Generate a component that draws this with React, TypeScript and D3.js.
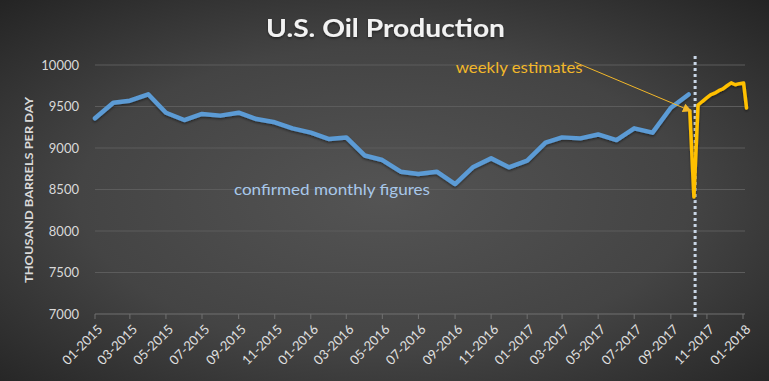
import React from 'react';
import * as d3 from 'd3';

const monthlyDates = [
  '2015-01-01','2015-02-01','2015-03-01','2015-04-01','2015-05-01','2015-06-01',
  '2015-07-01','2015-08-01','2015-09-01','2015-10-01','2015-11-01','2015-12-01',
  '2016-01-01','2016-02-01','2016-03-01','2016-04-01','2016-05-01','2016-06-01',
  '2016-07-01','2016-08-01','2016-09-01','2016-10-01','2016-11-01','2016-12-01',
  '2017-01-01','2017-02-01','2017-03-01','2017-04-01','2017-05-01','2017-06-01',
  '2017-07-01','2017-08-01','2017-09-01','2017-10-01',
];
const monthlyValues = [
  9358, 9546, 9570, 9647, 9425, 9337, 9410, 9390, 9425, 9349, 9310, 9237,
  9185, 9108, 9127, 8910, 8855, 8715, 8687, 8715, 8566, 8767, 8875, 8767,
  8847, 9064, 9128, 9116, 9163, 9096, 9237, 9185, 9485, 9645,
];

const weeklyDates = [
  '2017-10-03','2017-10-10','2017-10-17','2017-10-24','2017-10-31','2017-11-07',
  '2017-11-14','2017-11-21','2017-11-28','2017-12-05','2017-12-12','2017-12-19',
  '2017-12-26','2018-01-02','2018-01-07',
];
const weeklyValues = [
  9450, 8410, 9518, 9560, 9600, 9639, 9660, 9690, 9711, 9750, 9785, 9762,
  9775, 9783, 9482,
];

const tickLabels = [
  '01-2015','03-2015','05-2015','07-2015','09-2015','11-2015',
  '01-2016','03-2016','05-2016','07-2016','09-2016','11-2016',
  '01-2017','03-2017','05-2017','07-2017','09-2017','11-2017','01-2018',
];
const yTicks = [7000, 7500, 8000, 8500, 9000, 9500, 10000];

const dividerDate = '2017-10-12';
const titleText = 'U.S. Oil Production';
const yAxisTitle = 'THOUSAND BARRELS PER DAY';
const weeklyLabel = 'weekly estimates';
const monthlyLabel = 'confirmed monthly figures';
const weeklyLabelAnchor = { date: '2016-09-02', value: 9905 };
const monthlyLabelAnchor = { date: '2015-08-24', value: 8434 };
const arrowFrom = { date: '2017-03-22', value: 10036 };
const arrowTo = { date: '2017-10-05', value: 9446 };

const W = 769;
const H = 381;
const FONT = 'Lato, "Open Sans", sans-serif';

export default function App() {
  const parse = d3.timeParse('%Y-%m-%d');
  const x = d3.scaleTime()
    .domain([parse('2015-01-01')!, parse('2018-01-01')!])
    .range([95, 743]);
  const y = d3.scaleLinear().domain([7000, 10000]).range([314, 65]);

  const line = d3.line<[Date, number]>()
    .x(d => x(d[0]))
    .y(d => y(d[1]));

  const monthly: [Date, number][] = monthlyDates.map((d, i) => [parse(d)!, monthlyValues[i]]);
  const weekly: [Date, number][] = weeklyDates.map((d, i) => [parse(d)!, weeklyValues[i]]);

  const tickDates = tickLabels.map(l => {
    const [m, yr] = l.split('-');
    return parse(`${yr}-${m}-01`)!;
  });

  const gold = '#f2b72a';
  const ax0 = x(parse(arrowFrom.date)!);
  const ay0 = y(arrowFrom.value);
  const ax1 = x(parse(arrowTo.date)!);
  const ay1 = y(arrowTo.value);

  return (
    <div style={{ position: 'absolute', left: 0, top: 0 }}>
      <style>{'body{margin:0}'}</style>
      <svg width={W} height={H} style={{ display: 'block' }}>
        <defs>
          <radialGradient id="bg" cx="50%" cy="52%" r="72%">
            <stop offset="0%" stopColor="#545454" />
            <stop offset="55%" stopColor="#444444" />
            <stop offset="100%" stopColor="#242424" />
          </radialGradient>
          <marker id="arrow" viewBox="0 0 10 10" refX="9" refY="5" markerWidth="9" markerHeight="9" orient="auto" markerUnits="userSpaceOnUse">
            <path d="M0,0 L10,5 L0,10 z" fill={gold} />
          </marker>
          <filter id="shadow" x="-5%" y="-5%" width="110%" height="120%">
            <feDropShadow dx="0" dy="1.5" stdDeviation="1" floodColor="#000" floodOpacity="0.45" />
          </filter>
        </defs>
        <rect x={0} y={0} width={W} height={H} fill="url(#bg)" />

        <text x={385.5} y={37} textAnchor="middle" fill="#f2f2f2" fontFamily={FONT} fontWeight={700}
          fontSize={24} textLength={239} lengthAdjust="spacingAndGlyphs" filter="url(#shadow)">{titleText}</text>

        {yTicks.map(t => (
          <g key={t}>
            <line x1={95} x2={745} y1={y(t)} y2={y(t)} stroke={t === 7000 ? '#707070' : '#5c5c5c'} strokeWidth={1} />
            <text x={79} y={y(t)} dy="0.35em" textAnchor="end" fill="#d9d9d9" fontFamily={FONT} fontSize={13}>{t}</text>
          </g>
        ))}

        <text transform={`translate(29,190) rotate(-90)`} textAnchor="middle" dy="0.35em" fill="#d9d9d9"
          fontFamily={FONT} fontWeight={700} fontSize={12} textLength={186} lengthAdjust="spacingAndGlyphs">{yAxisTitle}</text>

        {tickDates.map((d, i) => (
          <g key={tickLabels[i]}>
            <line x1={x(d)} x2={x(d)} y1={314} y2={319} stroke="#707070" strokeWidth={1} />
            <text transform={`translate(${x(d) + 5},${327}) rotate(-45)`} textAnchor="end" dy="0.35em"
              fill="#e0e0e0" fontFamily={FONT} fontSize={13}>{tickLabels[i]}</text>
          </g>
        ))}

        <path d={line(monthly) || ''} fill="none" stroke="#5b9bd5" strokeWidth={4.5} strokeLinejoin="round"
          strokeLinecap="round" filter="url(#shadow)" />

        <line x1={x(parse(dividerDate)!)} x2={x(parse(dividerDate)!)} y1={56} y2={320}
          stroke="#c9d6e6" strokeWidth={3} strokeDasharray="3,3" />

        <path d={line(weekly) || ''} fill="none" stroke="#ffc000" strokeWidth={3.5} strokeLinejoin="round"
          strokeLinecap="round" filter="url(#shadow)" />

        <line x1={ax0} y1={ay0} x2={ax1} y2={ay1} stroke={gold} strokeWidth={1} markerEnd="url(#arrow)" />

        <text x={x(parse(weeklyLabelAnchor.date)!)} y={y(weeklyLabelAnchor.value)} fill={gold}
          fontFamily={FONT} fontSize={16} textLength={127} lengthAdjust="spacingAndGlyphs">{weeklyLabel}</text>
        <text x={x(parse(monthlyLabelAnchor.date)!)} y={y(monthlyLabelAnchor.value)} fill="#a8c8ea"
          fontFamily={FONT} fontSize={16} textLength={196} lengthAdjust="spacingAndGlyphs">{monthlyLabel}</text>
      </svg>
    </div>
  );
}
